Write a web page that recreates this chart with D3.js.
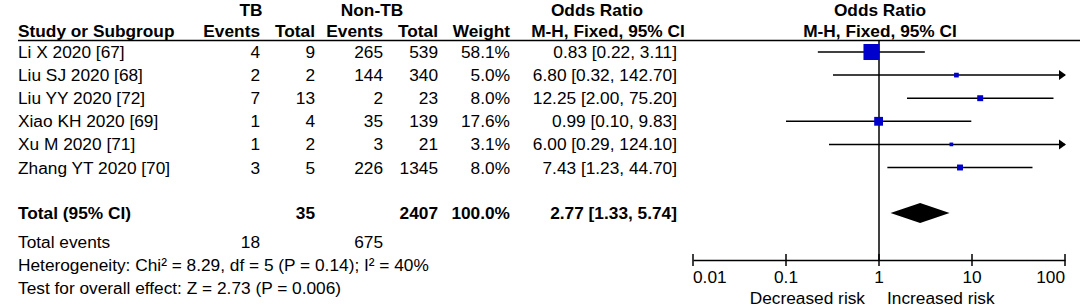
<!DOCTYPE html>
<html>
<head>
<meta charset="utf-8">
<script src="https://cdn.jsdelivr.net/npm/d3@7"></script>
<style>
  body { margin: 0; background: #fff; }
  text { font-family: "Liberation Sans", Arial, sans-serif; font-size: 17.3px; fill: #000; }
  .bold { font-weight: bold; }
</style>
</head>
<body>
<div id="forest"></div>
<script>
// study data
let studies  = ["Li X 2020 [67]", "Liu SJ 2020 [68]", "Liu YY 2020 [72]", "Xiao KH 2020 [69]", "Xu M 2020 [71]", "Zhang YT 2020 [70]"];
let tbEvents = [4, 2, 7, 1, 1, 3];
let tbTotal  = [9, 2, 13, 4, 2, 5];
let ntEvents = [265, 144, 2, 35, 3, 226];
let ntTotal  = [539, 340, 23, 139, 21, 1345];
let weights  = [58.1, 5.0, 8.0, 17.6, 3.1, 8.0];
let orValue  = [0.83, 6.80, 12.25, 0.99, 6.00, 7.43];
let orLow    = [0.22, 0.32, 2.00, 0.10, 0.29, 1.23];
let orHigh   = [3.11, 142.70, 75.20, 9.83, 124.10, 44.70];

let pooled = { tbTotal: 35, ntTotal: 2407, tbEvents: 18, ntEvents: 675, weight: "100.0%", or: 2.77, low: 1.33, high: 5.74 };
let axisTicks = [0.01, 0.1, 1, 10, 100];
let axisTickLabels = ["0.01", "0.1", "1", "10", "100"];

let width = 1084, height = 308;
let svg = d3.select("#forest").append("svg")
  .attr("width", width)
  .attr("height", height);

let rowY = d3.scalePoint().domain(d3.range(studies.length)).range([52, 167.5]);
let x = d3.scaleLog().domain([0.01, 100]).range([693, 1065]);
let boxSize = d3.scaleSqrt().domain([0, 58.1]).range([0, 16]);

let fmt2 = d3.format(".2f");
let fmtCI = (o, l, h) => fmt2(o) + " [" + fmt2(l) + ", " + fmt2(h) + "]";

// headers
let head = svg.append("g").attr("class", "bold");
let addText = (g, tx, ty, str, anchor) => g.append("text")
  .attr("x", tx).attr("y", ty).attr("dy", "0.35em")
  .attr("text-anchor", anchor || "start").text(str);

addText(head, 251, 10, "TB", "middle");
addText(head, 372, 10, "Non-TB", "middle");
addText(head, 597, 10, "Odds Ratio", "middle");
addText(head, 880, 10, "Odds Ratio", "middle");
addText(head, 18, 31, "Study or Subgroup");
addText(head, 260, 31, "Events", "end");
addText(head, 315, 31, "Total", "end");
addText(head, 383, 31, "Events", "end");
addText(head, 438, 31, "Total", "end");
addText(head, 510, 31, "Weight", "end");
addText(head, 608, 31, "M-H, Fixed, 95% CI", "middle");
addText(head, 880, 31, "M-H, Fixed, 95% CI", "middle");

svg.append("line")
  .attr("x1", 18).attr("x2", 1080)
  .attr("y1", 40.5).attr("y2", 40.5)
  .attr("stroke", "#000").attr("stroke-width", 1.5);

// study rows
let rows = svg.append("g");
studies.forEach((s, i) => {
  let y = rowY(i);
  addText(rows, 18, y, s);
  addText(rows, 260, y, tbEvents[i], "end");
  addText(rows, 315, y, tbTotal[i], "end");
  addText(rows, 383, y, ntEvents[i], "end");
  addText(rows, 438, y, ntTotal[i], "end");
  addText(rows, 510, y, d3.format(".1f")(weights[i]) + "%", "end");
  addText(rows, 677, y, fmtCI(orValue[i], orLow[i], orHigh[i]), "end");
});

// null line
svg.append("line")
  .attr("x1", x(1)).attr("x2", x(1))
  .attr("y1", 40).attr("y2", 260)
  .attr("stroke", "#000").attr("stroke-width", 1.5);

// CI lines
let plot = svg.append("g");
studies.forEach((s, i) => {
  let y = rowY(i);
  let lo = Math.max(orLow[i], 0.01), hi = Math.min(orHigh[i], 100);
  plot.append("line")
    .attr("x1", x(lo)).attr("x2", x(hi))
    .attr("y1", y).attr("y2", y)
    .attr("stroke", "#000").attr("stroke-width", 1.5);
  if (orHigh[i] > 100) {
    let ax = x(100) + 1;
    plot.append("path")
      .attr("d", `M${ax - 7},${y - 5}L${ax},${y}L${ax - 7},${y + 5}Z`)
      .attr("fill", "#000");
  }
  let b = boxSize(weights[i]);
  plot.append("rect")
    .attr("x", x(orValue[i]) - b / 2)
    .attr("y", y - b / 2)
    .attr("width", b).attr("height", b)
    .attr("fill", "#0000CC");
});

// pooled row
let totY = 213;
let tot = svg.append("g").attr("class", "bold");
addText(tot, 18, totY, "Total (95% CI)");
addText(tot, 315, totY, pooled.tbTotal, "end");
addText(tot, 438, totY, pooled.ntTotal, "end");
addText(tot, 510, totY, pooled.weight, "end");
addText(tot, 677, totY, fmtCI(pooled.or, pooled.low, pooled.high), "end");

svg.append("path")
  .attr("d", `M${x(pooled.low)},${totY}L${x(pooled.or)},${totY - 10}L${x(pooled.high)},${totY}L${x(pooled.or)},${totY + 10}Z`)
  .attr("fill", "#000");

let foot = svg.append("g");
addText(foot, 18, 242, "Total events");
addText(foot, 260, 242, pooled.tbEvents, "end");
addText(foot, 383, 242, pooled.ntEvents, "end");
addText(foot, 18, 265, "Heterogeneity: Chi\u00B2 = 8.29, df = 5 (P = 0.14); I\u00B2 = 40%");
addText(foot, 18, 288, "Test for overall effect: Z = 2.73 (P = 0.006)");

// axis
let axisG = svg.append("g").attr("transform", "translate(0,260)");
axisG.call(d3.axisBottom(x).tickValues(axisTicks).tickSize(0).tickFormat(""));
axisG.select(".domain").attr("stroke", "#000").attr("stroke-width", 1.5);
axisTicks.forEach((t, i) => {
  axisG.append("line")
    .attr("x1", x(t)).attr("x2", x(t))
    .attr("y1", -6).attr("y2", 6)
    .attr("stroke", "#000").attr("stroke-width", 1.5);
  let anchor = i === 0 ? "start" : (i === axisTicks.length - 1 ? "end" : "middle");
  addText(axisG, x(t), 17, axisTickLabels[i], anchor);
});
addText(svg, 865, 298, "Decreased risk", "end");
addText(svg, 887, 298, "Increased risk", "start");
</script>
</body>
</html>
